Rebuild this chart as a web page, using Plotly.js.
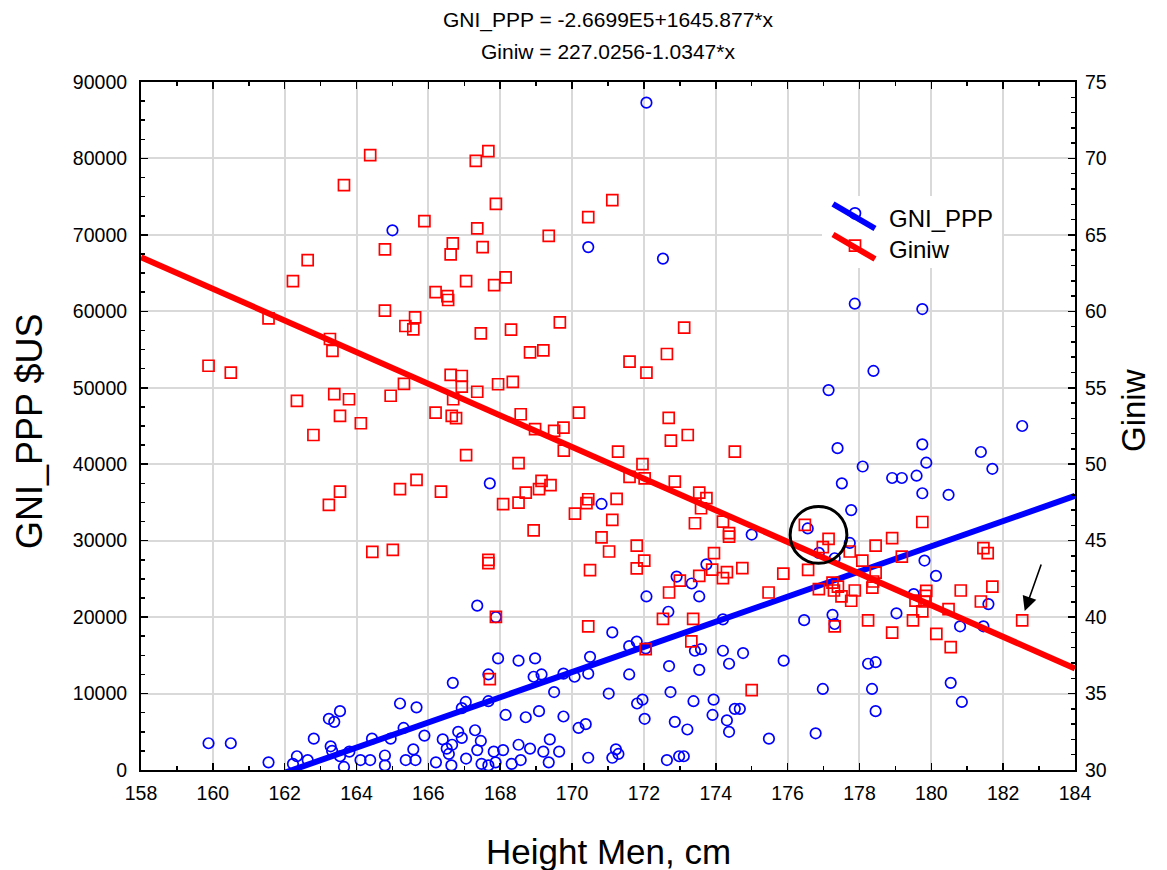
<!DOCTYPE html>
<html>
<head>
<meta charset="utf-8">
<script src="https://cdn.plot.ly/plotly-3.0.1.min.js"></script>
<style>html,body{margin:0;padding:0;background:#fff;}#chart{width:1167px;height:870px;}</style>
</head>
<body>
<div id="chart"></div>
<script>
// ---- data ----
var heightGNI = [172.07,165.00,170.45,172.53,177.87,179.75,178.39,177.14,182.53,177.39,179.75,181.38,178.09,179.86,181.70,178.91,179.18,179.59,177.51,179.75,180.48,177.77,176.56,175.00,177.73,176.87,177.31,179.81,180.13,179.51,181.59,177.25,179.03,176.46,177.31,180.80,181.45,174.76,175.89,178.24,178.45,180.54,176.98,178.35,180.85,174.67,178.45,175.48,176.78,
173.74,172.91,173.33,172.07,173.54,172.68,167.36,167.88,174.20,171.12,171.80,171.59,172.05,173.42,173.59,174.20,174.37,170.50,167.94,168.51,168.97,172.70,173.54,167.67,168.93,169.15,169.76,170.07,170.45,171.59,166.68,169.50,171.02,172.74,167.67,167.04,166.93,171.81,171.96,173.38,173.94,174.53,168.15,168.71,169.08,169.76,172.02,173.91,174.31,172.86,170.18,170.38,173.21,174.37,167.30,166.83,166.93,167.46,166.40,169.38,168.51,168.83,169.20,169.64,167.36,167.82,168.08,166.51,166.57,167.05,167.48,167.67,167.87,168.32,168.57,169.35,170.45,171.12,171.22,171.29,172.64,172.98,173.11,166.64,166.21,
159.88,160.50,161.55,162.34,162.23,162.64,162.81,163.23,163.38,163.54,163.28,163.32,163.54,163.65,163.80,164.11,164.38,164.43,164.79,164.79,164.95,165.21,165.31,165.37,165.58,165.64,165.67,165.89,166.66,167.71,170.82];
var gniPPP = [87300,70600,68400,66900,61000,60300,52200,49700,45000,42100,42600,41600,39700,40200,39400,38200,38200,38500,37500,36200,36000,34000,31600,30800,29700,28400,27700,27400,25400,23000,21700,20300,20500,19600,19100,18800,18800,15300,14300,13900,14100,11400,10600,10600,8900,8000,7700,4100,4800,
26900,25300,24400,22700,22700,20700,21500,20000,19700,18000,16800,16200,15900,15600,15800,15600,13900,14800,14600,14300,14600,13600,13100,12500,12200,12500,12600,12200,12600,12500,11400,10200,10000,10200,9000,8900,8100,8700,9200,9000,9200,8000,7200,6900,7700,7000,6700,7200,6500,6300,5500,6000,5300,5000,5200,5000,4200,3800,4000,4000,3300,2800,2400,2400,2600,2400,2600,2800,2100,1500,800,600,1000,800,1300,1000,1600,1600,2700,2100,1300,1800,1800,600,1000,
3500,3500,1000,1800,800,1300,4100,6700,6300,7700,3100,2500,1800,400,2400,1300,1300,4100,1900,600,4100,8700,5500,1300,2700,1300,8200,4500,3300,37500,34800];

var heightGini = [164.38,163.65,165.89,166.68,166.62,164.79,162.64,162.23,166.20,166.53,166.55,164.79,165.63,167.05,167.67,167.32,167.88,167.36,167.51,169.35,170.45,171.12,167.83,168.15,161.55,159.88,160.50,163.26,163.33,165.36,165.58,166.62,166.69,165.32,164.95,163.38,163.79,162.34,163.54,164.12,162.80,166.20,166.65,166.77,167.05,165.67,165.21,166.35,163.54,163.23,164.44,165.01,
167.46,168.30,169.66,168.83,169.20,173.12,172.64,171.60,172.07,166.93,166.93,167.36,167.94,168.35,168.57,170.19,168.97,169.50,169.76,169.77,172.69,172.75,173.22,174.53,168.51,171.28,171.96,171.60,172.02,172.86,173.54,173.74,173.59,173.42,174.20,174.37,174.37,169.15,169.40,169.08,168.71,168.08,168.51,170.45,170.40,171.24,170.08,171.12,168.93,170.82,171.80,171.03,172.01,171.80,170.50,173.95,174.74,173.90,174.31,174.20,173.54,173.00,172.70,167.67,167.67,167.88,172.53,173.37,170.45,173.32,172.05,167.71,175.00,
176.48,177.14,176.98,177.73,178.45,178.91,179.75,179.18,178.08,175.88,176.57,178.45,175.47,176.87,177.25,177.40,177.29,177.50,177.77,177.87,178.38,178.36,179.86,179.84,179.56,179.81,179.75,179.49,178.24,177.31,178.91,180.48,180.82,181.70,181.38,181.45,181.57,182.53,180.14,180.54];
var giniw = [70.22,68.25,65.90,64.44,63.73,64.05,63.35,61.98,61.26,61.00,60.74,60.04,59.61,61.98,70.48,69.84,67.03,65.42,64.20,64.94,66.16,67.27,61.72,62.22,59.54,56.44,55.99,58.19,57.42,59.04,58.82,55.84,54.25,55.25,54.48,54.59,54.25,54.14,53.16,52.68,51.91,53.37,53.16,53.01,50.59,48.97,48.37,48.21,48.21,47.34,44.27,44.40,
58.56,58.80,59.28,57.32,57.45,58.93,57.21,56.71,55.99,55.77,55.07,54.74,55.23,55.38,53.27,53.37,52.29,52.18,52.39,50.89,53.03,51.54,51.91,50.82,50.07,50.82,50.00,49.17,49.08,48.86,48.14,47.78,47.12,46.14,46.25,45.49,45.27,48.91,48.63,48.37,48.14,47.39,47.49,47.71,47.45,47.73,46.77,46.36,45.67,45.22,44.68,44.29,43.70,43.19,43.07,44.18,43.20,43.11,42.94,42.55,42.70,42.39,41.61,43.75,43.53,40.02,39.89,39.89,39.39,38.41,37.91,35.95,35.23,
46.03,45.12,44.58,44.29,44.68,45.16,46.22,43.96,43.70,42.85,43.09,42.91,41.61,41.83,42.26,42.00,41.74,41.35,41.07,41.74,42.33,41.93,41.72,41.39,41.08,41.02,40.37,39.78,39.78,39.39,38.99,40.52,41.74,42.00,41.02,44.51,44.18,39.78,38.91,38.04];

// regression coefficients printed in the chart title
var gniFit = {a: -2.6699E5, b: 1645.877};
var giniFit = {a: 227.0256, b: -1.0347};
var xRange = [158, 184];
var titleLines = ["GNI_PPP = -2.6699E5+1645.877*x", "Giniw = 227.0256-1.0347*x"];
var xTicks = [158,160,162,164,166,168,170,172,174,176,178,180,182,184];

var FONT = "Arial, 'Liberation Sans', sans-serif";
var BLUE = "#0000ff", RED = "#ff0000";

var fitX = xRange.slice();
var gniLineY = fitX.map(function(x){return gniFit.a + gniFit.b*x;});
var giniLineY = fitX.map(function(x){return giniFit.a + giniFit.b*x;});

var traces = [
  {x: heightGNI, y: gniPPP, type: "scatter", mode: "markers", name: "GNI_PPP",
   marker: {symbol: "circle-open", size: 10.5, color: BLUE, line: {width: 1.7, color: BLUE}}, yaxis: "y"},
  {x: heightGini, y: giniw, type: "scatter", mode: "markers", name: "Giniw",
   marker: {symbol: "square-open", size: 11, color: RED, line: {width: 1.7, color: RED}}, yaxis: "y2"},
  {x: fitX, y: gniLineY, type: "scatter", mode: "lines", line: {color: BLUE, width: 6}, yaxis: "y", hoverinfo: "skip"},
  {x: fitX, y: giniLineY, type: "scatter", mode: "lines", line: {color: RED, width: 6}, yaxis: "y2", hoverinfo: "skip"}
];

function px2paperX(p){ return (p - 141) / 934; }
function px2paperY(p){ return (770 - p) / 688; }

var shapes = [
  // legend box
  {type: "rect", xref: "paper", yref: "paper", x0: px2paperX(822), x1: px2paperX(1002), y0: px2paperY(268), y1: px2paperY(196),
   fillcolor: "#ffffff", line: {width: 0}, layer: "above"},
  {type: "circle", xref: "paper", yref: "paper", x0: px2paperX(849.5), x1: px2paperX(860.5), y0: px2paperY(218.8), y1: px2paperY(207.8),
   line: {color: BLUE, width: 1.7}, layer: "above"},
  {type: "line", xref: "paper", yref: "paper", x0: px2paperX(833), y0: px2paperY(204), x1: px2paperX(875), y1: px2paperY(228.5),
   line: {color: BLUE, width: 6}, layer: "above"},
  {type: "rect", xref: "paper", yref: "paper", x0: px2paperX(849.5), x1: px2paperX(860.5), y0: px2paperY(251.2), y1: px2paperY(240.2),
   line: {color: RED, width: 1.7}, layer: "above"},
  {type: "line", xref: "paper", yref: "paper", x0: px2paperX(833), y0: px2paperY(234.5), x1: px2paperX(875), y1: px2paperY(259),
   line: {color: RED, width: 6}, layer: "above"},
  // highlight circle
  {type: "circle", xref: "x", yref: "y", x0: 176.07, x1: 177.65, y0: 27030, y1: 34480,
   line: {color: "#000000", width: 3}, layer: "above"}
];

var annotations = [
  {text: titleLines[0], xref: "paper", yref: "paper", x: 0.5, y: px2paperY(20), xanchor: "center", yanchor: "middle", showarrow: false,
   font: {family: FONT, size: 21, color: "#000"}},
  {text: titleLines[1], xref: "paper", yref: "paper", x: 0.5, y: px2paperY(52), xanchor: "center", yanchor: "middle", showarrow: false,
   font: {family: FONT, size: 21, color: "#000"}},
  {text: "Height Men, cm", xref: "paper", yref: "paper", x: 0.5, y: px2paperY(851), xanchor: "center", yanchor: "middle", showarrow: false,
   font: {family: FONT, size: 35, color: "#000"}},
  {text: "GNI_PPP $US", xref: "paper", yref: "paper", x: px2paperX(29), y: px2paperY(432), xanchor: "center", yanchor: "middle", showarrow: false,
   textangle: -90, font: {family: FONT, size: 36, color: "#000"}},
  {text: "Giniw", xref: "paper", yref: "paper", x: px2paperX(1133), y: px2paperY(411), xanchor: "center", yanchor: "middle", showarrow: false,
   textangle: -90, font: {family: FONT, size: 33, color: "#000"}},
  {text: "GNI_PPP", xref: "paper", yref: "paper", x: px2paperX(887), y: px2paperY(218), xanchor: "left", yanchor: "middle", showarrow: false,
   font: {family: FONT, size: 24, color: "#000"}},
  {text: "Giniw", xref: "paper", yref: "paper", x: px2paperX(887), y: px2paperY(249), xanchor: "left", yanchor: "middle", showarrow: false,
   font: {family: FONT, size: 24, color: "#000"}},
  // arrow pointing at a Giniw point
  {text: "", xref: "x", yref: "y", x: 182.6, y: 20800, ax: 17, ay: -48, showarrow: true,
   arrowhead: 2, arrowsize: 1.8, arrowwidth: 1.6, arrowcolor: "#000"}
];

var axisCommon = {
  showline: true, linecolor: "#000", linewidth: 2,
  ticks: "inside", tickcolor: "#000", tickwidth: 1.5, ticklen: 7,
  tickfont: {family: FONT, size: 19.5, color: "#000"},
  zeroline: false
};

var layout = {
  width: 1167, height: 870,
  margin: {l: 141, r: 92, t: 82, b: 100},
  paper_bgcolor: "#fff", plot_bgcolor: "#fff",
  showlegend: false,
  font: {family: FONT, color: "#000"},
  xaxis: Object.assign({}, axisCommon, {
    range: xRange, tickvals: xTicks, mirror: "ticks",
    showgrid: true, gridcolor: "#d9d9d9", gridwidth: 2,
    ticklabelstandoff: 5,
    minor: {dtick: 1, ticks: "inside", ticklen: 4, tickcolor: "#000", tickwidth: 1.5, showgrid: false}
  }),
  yaxis: Object.assign({}, axisCommon, {
    range: [0, 90000], dtick: 10000, tick0: 0,
    showgrid: true, gridcolor: "#d9d9d9", gridwidth: 2,
    tickformat: "d", ticklabelstandoff: 8,
    minor: {dtick: 2500, ticks: "inside", ticklen: 4, tickcolor: "#000", tickwidth: 1.5, showgrid: false}
  }),
  yaxis2: Object.assign({}, axisCommon, {
    range: [30, 75], dtick: 5, tick0: 30, overlaying: "y", side: "right",
    showgrid: false, ticklabelstandoff: 4,
    minor: {dtick: 1, ticks: "inside", ticklen: 4, tickcolor: "#000", tickwidth: 1.5, showgrid: false}
  }),
  shapes: shapes,
  annotations: annotations
};

Plotly.newPlot("chart", traces, layout, {displayModeBar: false, staticPlot: true});
</script>
</body>
</html>
